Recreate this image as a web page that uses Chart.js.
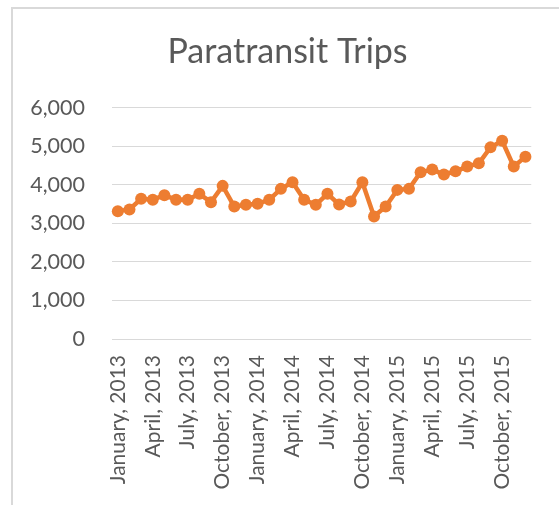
<!DOCTYPE html>
<html>
<head>
<meta charset="utf-8">
<script src="https://cdn.jsdelivr.net/npm/chart.js@4"></script>
<style>
html,body{margin:0;padding:0;background:#fff;}
#wrap{position:relative;width:559px;height:505px;}
</style>
</head>
<body>
<div id="wrap"><canvas id="c" width="559" height="505"></canvas></div>
<script>
const categories = [
  "January, 2013","February, 2013","March, 2013","April, 2013","May, 2013","June, 2013",
  "July, 2013","August, 2013","September, 2013","October, 2013","November, 2013","December, 2013",
  "January, 2014","February, 2014","March, 2014","April, 2014","May, 2014","June, 2014",
  "July, 2014","August, 2014","September, 2014","October, 2014","November, 2014","December, 2014",
  "January, 2015","February, 2015","March, 2015","April, 2015","May, 2015","June, 2015",
  "July, 2015","August, 2015","September, 2015","October, 2015","November, 2015","December, 2015"
];
const trips = [
  3318, 3362, 3638, 3612, 3732, 3612, 3612, 3767, 3551, 3974, 3439, 3482,
  3508, 3612, 3896, 4068, 3612, 3482, 3767, 3491, 3569, 4068, 3181, 3439,
  3870, 3896, 4327, 4396, 4267, 4353, 4474, 4559, 4973, 5146, 4474, 4732
];
const yTicks = [0, 1000, 2000, 3000, 4000, 5000, 6000];
const titleText = "Paratransit Trips";

const frame = {
  id: 'frame',
  beforeDraw(chart) {
    const ctx = chart.ctx;
    ctx.save();
    ctx.strokeStyle = '#d9d9d9';
    ctx.lineWidth = 2;
    ctx.beginPath();
    ctx.moveTo(12, 505);
    ctx.lineTo(12, 8);
    ctx.lineTo(559, 8);
    ctx.stroke();
    ctx.restore();
  }
};

new Chart(document.getElementById('c'), {
  type: 'line',
  data: {
    labels: categories,
    datasets: [{
      data: trips,
      yAxisID: 'y',
      borderColor: '#ED7D31',
      backgroundColor: '#ED7D31',
      borderWidth: 4.5,
      pointRadius: 6,
      pointHoverRadius: 6,
      pointBackgroundColor: '#ED7D31',
      pointBorderWidth: 0,
      tension: 0
    }]
  },
  options: {
    responsive: false,
    animation: false,
    events: [],
    layout: { padding: { left: 16, right: 0, top: 0, bottom: 0 } },
    plugins: {
      legend: { display: false },
      tooltip: { enabled: false },
      title: {
        display: true,
        text: titleText,
        color: '#595959',
        font: { family: 'Lato', size: 34, weight: 'normal' },
        padding: { top: 32, bottom: 35 }
      }
    },
    scales: {
      x: {
        offset: true,
        grid: { display: false, offset: true },
        border: { display: false },
        ticks: {
          autoSkip: false,
          maxRotation: 90,
          minRotation: 90,
          padding: 8,
          color: '#595959',
          font: { family: 'Lato', size: 21 },
          callback: function(v, i) { return i % 3 === 0 ? categories[i] : ''; }
        },
        afterFit(s) { s.height = 166; }
      },
      y: {
        position: 'left',
        min: 0,
        max: 6000,
        afterBuildTicks(s) { s.ticks = yTicks.map(v => ({ value: v })); },
        grid: { color: '#d9d9d9', lineWidth: 1, drawTicks: false },
        border: { display: false },
        ticks: {
          padding: 27,
          color: '#595959',
          font: { family: 'Lato', size: 21.5 },
          callback: v => v.toLocaleString('en-US')
        },
        afterFit(s) { s.width = 96; }
      },
      yRight: {
        position: 'right',
        display: true,
        min: 0,
        max: 6000,
        grid: { display: false },
        border: { display: false },
        ticks: { display: false },
        afterFit(s) { s.width = 27; }
      }
    }
  },
  plugins: [frame]
});
</script>
</body>
</html>
